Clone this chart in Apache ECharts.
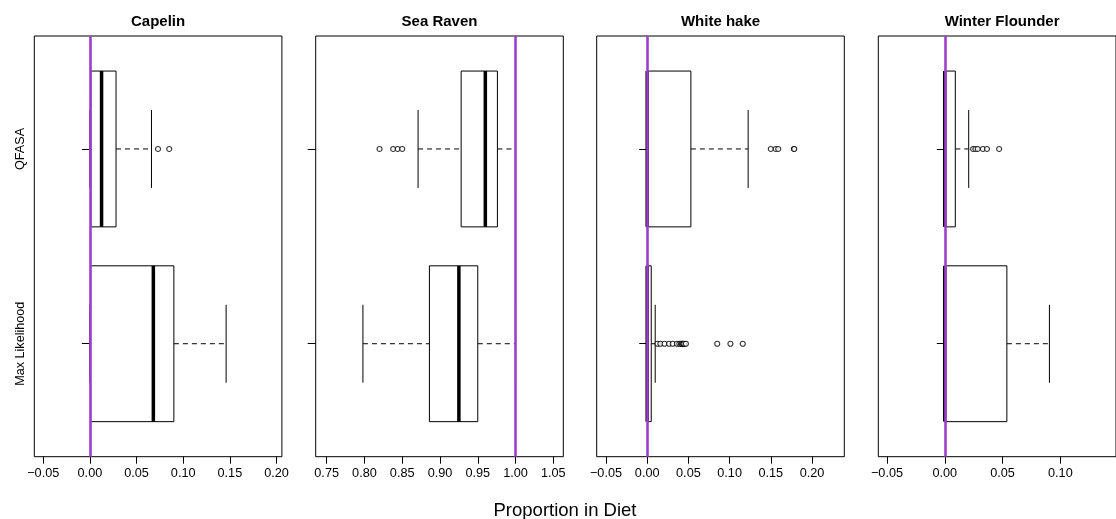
<!DOCTYPE html>
<html>
<head>
<meta charset="utf-8">
<script src="https://cdn.jsdelivr.net/npm/echarts@6/dist/echarts.min.js"></script>
<style>
  html, body { margin: 0; padding: 0; background: #fff; }
  #chart { width: 1116px; height: 519px; }
</style>
</head>
<body>
<div id="chart"></div>
<script>
// groups on the y axis: Max Likelihood at 1, QFASA at 2
const methods = ['Max Likelihood', 'QFASA']
const species = ['Capelin', 'Sea Raven', 'White hake', 'Winter Flounder']

// box stats: [lower whisker, q1, median, q3, upper whisker]
const capelinML = [0, 0.0007, 0.068, 0.090, 0.146]
const capelinQF = [0, 0.001, 0.0125, 0.028, 0.066]
const capelinOutML = []
const capelinOutQF = [0.073, 0.085]

const seaRavenML = [0.798, 0.886, 0.925, 0.950, 1.0]
const seaRavenQF = [0.871, 0.928, 0.960, 0.976, 1.0]
const seaRavenOutML = []
const seaRavenOutQF = [0.820, 0.838, 0.844, 0.850]

const whiteHakeML = [0, 0, 0, 0.0049, 0.0097]
const whiteHakeQF = [0, 0, 0, 0.053, 0.1225]
const whiteHakeOutML = [0.0125, 0.016, 0.021, 0.0265, 0.031, 0.036, 0.039, 0.041, 0.042, 0.043, 0.044, 0.045, 0.047, 0.085, 0.101, 0.116]
const whiteHakeOutQF = [0.150, 0.156, 0.159, 0.178, 0.1785]

const winterFlML = [0, 0, 0, 0.0537, 0.0905]
const winterFlQF = [0, 0, 0, 0.0091, 0.0207]
const winterFlOutML = []
const winterFlOutQF = [0.0245, 0.0265, 0.0285, 0.033, 0.0365, 0.047]

// reference line per panel
const refLines = [0, 1, 0, 0]

// tick labels per panel
const xTicks = [
  [-0.05, 0, 0.05, 0.10, 0.15, 0.20],
  [0.75, 0.80, 0.85, 0.90, 0.95, 1.00, 1.05],
  [-0.05, 0, 0.05, 0.10, 0.15, 0.20],
  [-0.05, 0, 0.05, 0.10]
]

const boxes = [
  [capelinML, capelinQF],
  [seaRavenML, seaRavenQF],
  [whiteHakeML, whiteHakeQF],
  [winterFlML, winterFlQF]
]
const outliers = [
  [capelinOutML, capelinOutQF],
  [seaRavenOutML, seaRavenOutQF],
  [whiteHakeOutML, whiteHakeOutQF],
  [winterFlOutML, winterFlOutQF]
]

// layout (pixels) and axis extents
const panels = [
  { left: 34.3, min: -0.0596, max: 0.2058 },
  { left: 315.7, min: 0.7355, max: 1.0632 },
  { left: 596.7, min: -0.0613, max: 0.2392 },
  { left: 878.3, min: -0.0575, max: 0.1481 }
]
const panelW = 247.6
const panelTop = 36
const panelH = 420.7
const font = 'Liberation Sans, Arial, Helvetica, sans-serif'
const purple = '#9b3fcb'

const fmt = v => (v < 0 ? '\u2212' : '') + Math.abs(v).toFixed(2)

const renderBox = (params, api) => {
  const y = api.value(0)
  const lo = api.value(1), q1 = api.value(2), med = api.value(3), q3 = api.value(4), hi = api.value(5)
  const h = api.size([0, 0.8])[1]
  const pLo = api.coord([lo, y])
  const pQ1 = api.coord([q1, y])
  const pMed = api.coord([med, y])
  const pQ3 = api.coord([q3, y])
  const pHi = api.coord([hi, y])
  const cy = pQ1[1]
  const dash = { stroke: '#000', lineWidth: 1, lineDash: [5, 4] }
  const solid = { stroke: '#000', lineWidth: 1 }
  return {
    type: 'group',
    children: [
      { type: 'line', shape: { x1: pLo[0], y1: cy, x2: pQ1[0], y2: cy }, style: dash },
      { type: 'line', shape: { x1: pQ3[0], y1: cy, x2: pHi[0], y2: cy }, style: dash },
      { type: 'line', shape: { x1: pLo[0], y1: cy - h / 4, x2: pLo[0], y2: cy + h / 4 }, style: solid },
      { type: 'line', shape: { x1: pHi[0], y1: cy - h / 4, x2: pHi[0], y2: cy + h / 4 }, style: solid },
      { type: 'rect', shape: { x: pQ1[0], y: cy - h / 2, width: pQ3[0] - pQ1[0], height: h }, style: { stroke: '#000', lineWidth: 1, fill: '#fff' } },
      { type: 'line', shape: { x1: pMed[0], y1: cy - h / 2, x2: pMed[0], y2: cy + h / 2 }, style: { stroke: '#000', lineWidth: 3.5 } }
    ]
  }
}

const chart = echarts.init(document.getElementById('chart'))

const grid = [], xAxis = [], yAxis = [], series = [], title = []

panels.forEach((p, i) => {
  grid.push({
    left: p.left, top: panelTop, width: panelW, height: panelH,
    show: true, borderColor: '#000', borderWidth: 1, backgroundColor: 'transparent'
  })
  xAxis.push({
    type: 'value', gridIndex: i, min: p.min, max: p.max,
    splitLine: { show: false },
    axisLine: { show: false },
    axisTick: { show: true, customValues: xTicks[i], length: 7, lineStyle: { color: '#000' } },
    axisLabel: { customValues: xTicks[i], formatter: fmt, color: '#000', fontSize: 12.7, fontFamily: font, margin: 10 }
  })
  yAxis.push({
    type: 'value', gridIndex: i, min: 0.42, max: 2.58,
    splitLine: { show: false },
    axisLine: { show: false },
    axisTick: { show: true, customValues: [1, 2], length: 8, lineStyle: { color: '#000' } },
    axisLabel: {
      show: i === 0, customValues: [1, 2], rotate: 90, margin: 7,
      formatter: v => methods[Math.round(v) - 1],
      color: '#000', fontSize: 12.6, fontFamily: font
    }
  })
  title.push({
    text: species[i], left: p.left + panelW / 2, top: 14, textAlign: 'center', padding: 0,
    textStyle: { fontSize: 15, fontWeight: 'bold', color: '#000', fontFamily: font }
  })

  series.push({
    type: 'custom', xAxisIndex: i, yAxisIndex: i, z: 2,
    renderItem: renderBox,
    encode: { x: [1, 2, 3, 4, 5], y: 0 },
    data: boxes[i].map((b, k) => [k + 1, ...b])
  })
  const pts = []
  outliers[i].forEach((arr, k) => arr.forEach(v => pts.push([v, k + 1])))
  series.push({
    type: 'scatter', xAxisIndex: i, yAxisIndex: i, z: 5,
    symbol: 'circle', symbolSize: 5,
    itemStyle: { color: '#fff', borderColor: '#000', borderWidth: 1.1 },
    data: pts,
    markLine: {
      silent: true, symbol: 'none', animation: false,
      label: { show: false },
      lineStyle: { color: purple, width: 2.6, type: 'solid' },
      data: [{ xAxis: refLines[i] }]
    }
  })
})

title.push({
  text: 'Proportion in Diet', left: 565, top: 501, textAlign: 'center', padding: 0,
  textStyle: { fontSize: 18.5, fontWeight: 'normal', color: '#000', fontFamily: font }
})

chart.setOption({
  animation: false,
  backgroundColor: '#fff',
  title,
  grid,
  xAxis,
  yAxis,
  series
})
</script>
</body>
</html>
